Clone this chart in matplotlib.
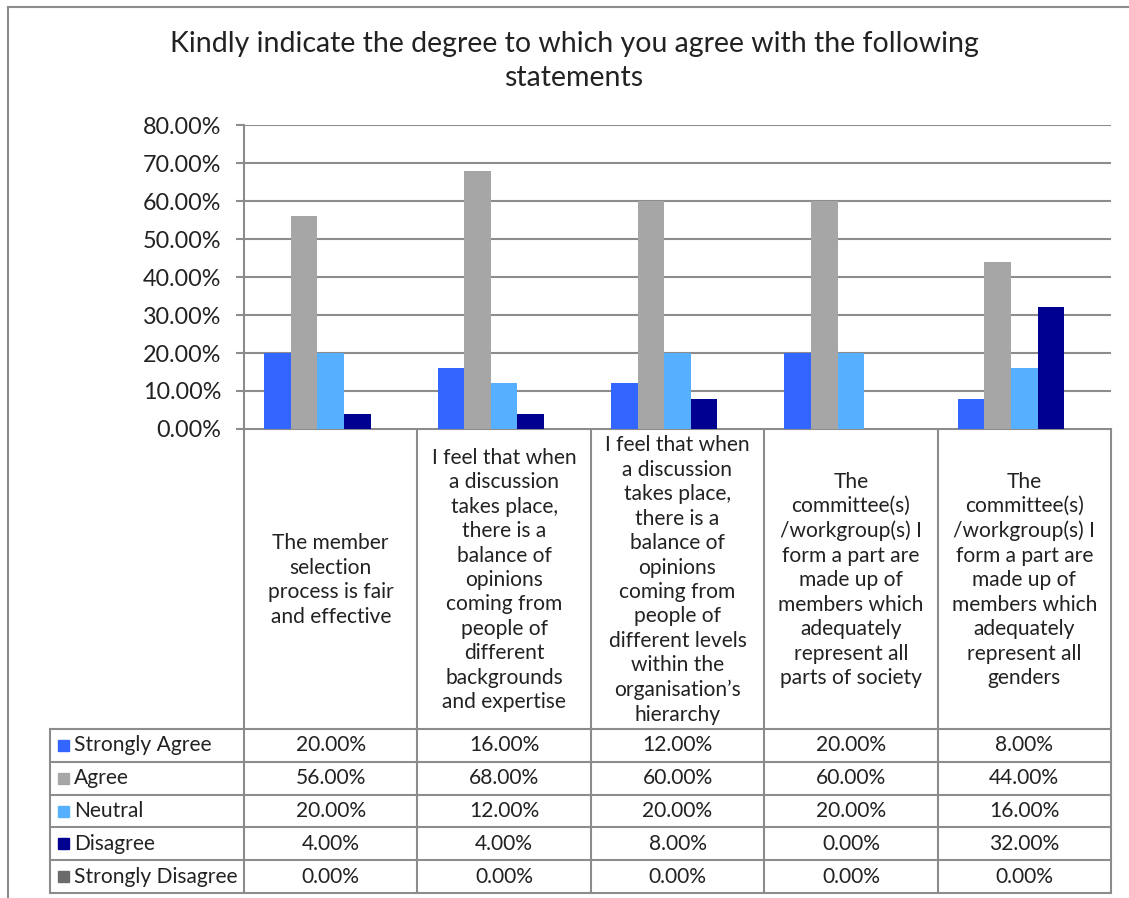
import numpy as np
import matplotlib.pyplot as plt

plt.rcParams['font.family'] = ['Lato', 'DejaVu Sans']

categories = [
    "The member\nselection\nprocess is fair\nand effective",
    "I feel that when\na discussion\ntakes place,\nthere is a\nbalance of\nopinions\ncoming from\npeople of\ndifferent\nbackgrounds\nand expertise",
    "I feel that when\na discussion\ntakes place,\nthere is a\nbalance of\nopinions\ncoming from\npeople of\ndifferent levels\nwithin the\norganisation\u2019s\nhierarchy",
    "The\ncommittee(s)\n/workgroup(s) I\nform a part are\nmade up of\nmembers which\nadequately\nrepresent all\nparts of society",
    "The\ncommittee(s)\n/workgroup(s) I\nform a part are\nmade up of\nmembers which\nadequately\nrepresent all\ngenders",
]
series = ["Strongly Agree", "Agree", "Neutral", "Disagree", "Strongly Disagree"]
strongly_agree = [20, 16, 12, 20, 8]
agree = [56, 68, 60, 60, 44]
neutral = [20, 12, 20, 20, 16]
disagree = [4, 4, 8, 0, 32]
strongly_disagree = [0, 0, 0, 0, 0]
values = [strongly_agree, agree, neutral, disagree, strongly_disagree]
colors = ["#3366FF", "#A6A6A6", "#57B0FF", "#000090", "#6B6B6B"]

W, H = 1129, 898
fig = plt.figure(figsize=(W / 100, H / 100), dpi=100)

# plot area in pixel units
px_left, px_right = 244, 1111
px_top, px_bottom = 125, 429
ax = fig.add_axes([px_left / W, 1 - px_bottom / H,
                   (px_right - px_left) / W, (px_bottom - px_top) / H])

grid_col = "#8C8C8C"
txt_col = "#222222"
n = len(categories)
x = np.arange(n) + 0.5
bw = 0.1534
for k, (name, vals, c) in enumerate(zip(series, values, colors)):
    ax.bar(x + (k - 2) * bw, vals, width=bw, color=c, label=name, zorder=3)

ax.set_xlim(0, n)
ax.set_ylim(0, 80)
ax.set_yticks(np.arange(0, 81, 10))
ax.set_yticklabels([f"{v:.2f}%" for v in np.arange(0, 81, 10)], fontsize=16.8, color=txt_col)
ax.set_xticks([])
ax.grid(axis='y', color=grid_col, lw=1.5, zorder=0)
for s in ['top', 'right', 'bottom']:
    ax.spines[s].set_visible(False)
ax.spines['left'].set_color(grid_col)
ax.spines['left'].set_linewidth(1.5)
ax.tick_params(axis='y', length=6, width=1.5, color=grid_col, pad=10.5)

# overlay in pixel coordinates for the data table and frame
ov = fig.add_axes([0, 0, 1, 1], zorder=-1)
ov.set_xlim(0, W)
ov.set_ylim(H, 0)
ov.axis('off')

lw = 1.5
col_x = np.linspace(px_left, px_right, n + 1)
row_y = np.linspace(729, 893, len(series) + 1)
tbl_left = 50
tfs = 15.1

# vertical lines of the table
for cx in col_x:
    ov.plot([cx, cx], [px_bottom, row_y[-1]], color=grid_col, lw=lw)
ov.plot([tbl_left, tbl_left], [row_y[0], row_y[-1]], color=grid_col, lw=lw)
# horizontal lines
ov.plot([px_left, px_right], [px_bottom, px_bottom], color=grid_col, lw=lw)
for ry in row_y:
    ov.plot([tbl_left, px_right], [ry, ry], color=grid_col, lw=lw)

# category labels
for i, cat in enumerate(categories):
    ov.text((col_x[i] + col_x[i + 1]) / 2, (px_bottom + row_y[0]) / 2 + 1, cat,
            ha='center', va='center', fontsize=tfs, color=txt_col,
            linespacing=1.28, multialignment='center')

# series rows
for r, (name, vals, c) in enumerate(zip(series, values, colors)):
    yc = (row_y[r] + row_y[r + 1]) / 2
    ov.add_patch(plt.Rectangle((58, yc - 5.5), 11, 11, color=c))
    ov.text(74, yc, name, ha='left', va='center', fontsize=tfs, color=txt_col)
    for i, v in enumerate(vals):
        ov.text((col_x[i] + col_x[i + 1]) / 2, yc, f"{v:.2f}%",
                ha='center', va='center', fontsize=tfs, color=txt_col)

# outer frame
ov.plot([8, 8], [7, H], color=grid_col, lw=1.5)
ov.plot([8, W], [7, 7], color=grid_col, lw=1.5)

fig.text(574 / W, 1 - 61 / H,
         "Kindly indicate the degree to which you agree with the following\nstatements",
         ha='center', va='center', fontsize=20.5, color=txt_col, linespacing=1.35)

fig.savefig("out.png", dpi=100, facecolor='white')
